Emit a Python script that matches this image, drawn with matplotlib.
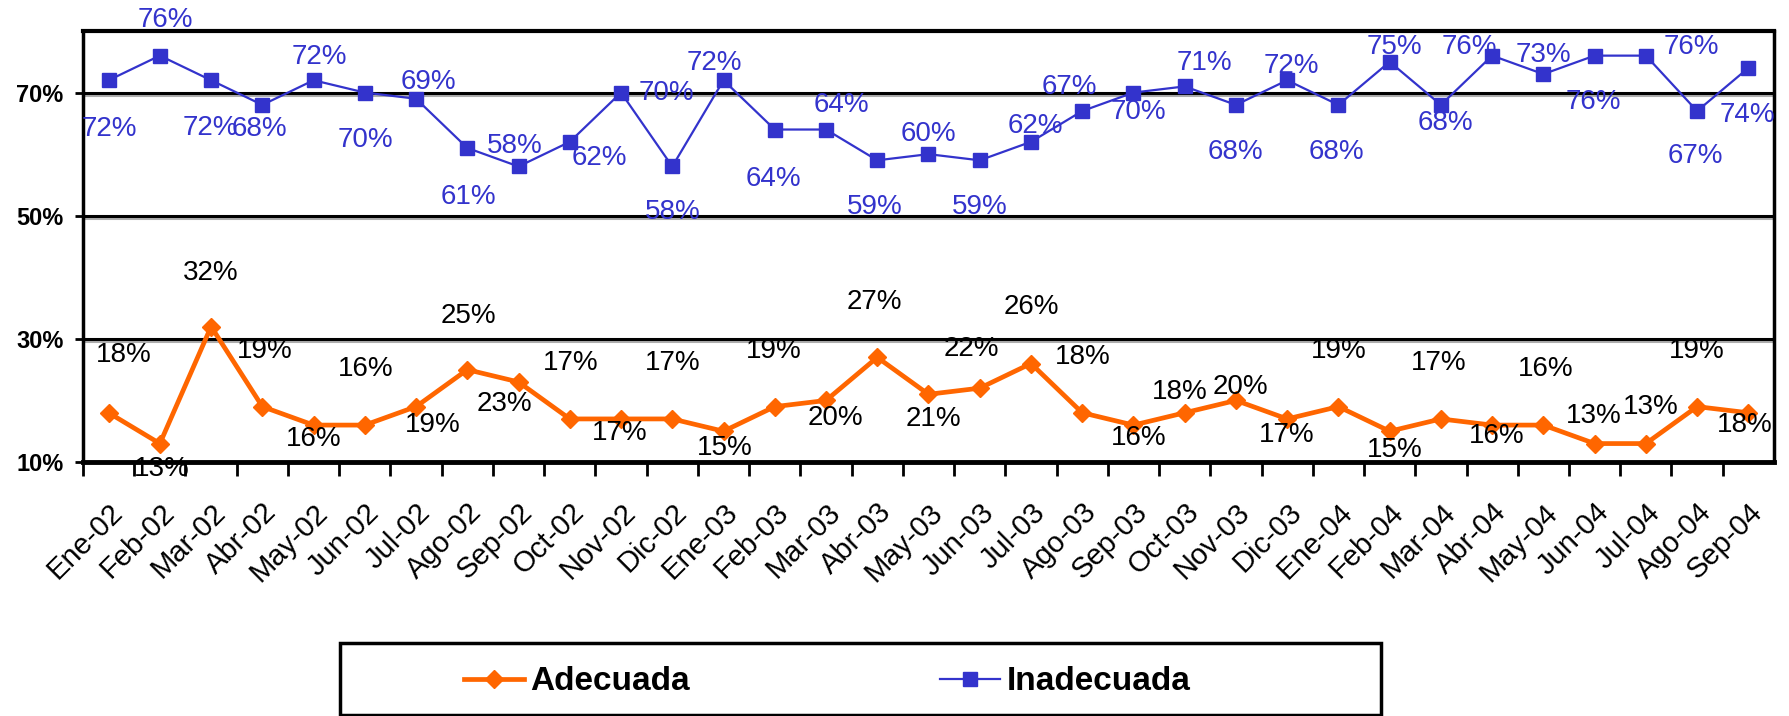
import matplotlib
matplotlib.use('Agg')
import matplotlib.pyplot as plt
import matplotlib.patheffects as pe
from matplotlib import font_manager
from matplotlib.lines import Line2D
from matplotlib.patches import Rectangle
from matplotlib.transforms import ScaledTranslation

# datos mensuales (%)
meses = ['Ene-02', 'Feb-02', 'Mar-02', 'Abr-02', 'May-02', 'Jun-02', 'Jul-02', 'Ago-02',
         'Sep-02', 'Oct-02', 'Nov-02', 'Dic-02', 'Ene-03', 'Feb-03', 'Mar-03', 'Abr-03',
         'May-03', 'Jun-03', 'Jul-03', 'Ago-03', 'Sep-03', 'Oct-03', 'Nov-03', 'Dic-03',
         'Ene-04', 'Feb-04', 'Mar-04', 'Abr-04', 'May-04', 'Jun-04', 'Jul-04', 'Ago-04', 'Sep-04']
adecuada = [18, 13, 32, 19, 16, 16, 19, 25, 23, 17, 17, 17, 15, 19, 20, 27,
            21, 22, 26, 18, 16, 18, 20, 17, 19, 15, 17, 16, 16, 13, 13, 19, 18]
inadecuada = [72, 76, 72, 68, 72, 70, 69, 61, 58, 62, 70, 58, 72, 64, 64, 59,
              60, 59, 62, 67, 70, 71, 68, 72, 68, 75, 68, 76, 73, 76, 76, 67, 74]
yticks = [10, 30, 50, 70]

# posicion de las etiquetas (pixeles, y hacia abajo)
off_adec = [(15, -58), (2, 25), (0, -54), (2, -56), (0, 14), (1, -56), (17, 18), (1, -54),
            (-14, 22), (1, -56), (-1, 14), (0, -56), (1, 17), (-1, -56), (9, 18), (-3, -55),
            (5, 25), (-8, -39), (0, -57), (1, -56), (5, 13), (-5, -21), (4, -13), (0, 16),
            (0, -56), (5, 19), (-2, -56), (5, 11), (2, -56), (-1, -28), (5, -37), (0, -56), (-4, 12)]
off_inad = [(1, 49), (6, -36), (-1, 48), (-3, 24), (6, -23), (1, 47), (12, -17), (1, 49),
            (-4, -20), (30, 16), (45, 0), (0, 46), (-9, -17), (-1, 49), (15, -25), (-3, 47),
            (0, -20), (0, 47), (4, -16), (-13, -24), (5, 19), (20, -23), (-1, 47), (4, -14),
            (-2, 47), (5, -15), (5, 18), (-23, -9), (0, -19), (-1, 46), (46, -9), (-2, 45), (-1, 47)]

NARANJA = '#FF6600'
AZUL = '#3333CC'

nombres = {f.name for f in font_manager.fontManager.ttflist}
if 'Liberation Sans Narrow' in nombres:
    fam_leg = ['Liberation Sans Narrow', 'DejaVu Sans']
    tam_leg = 28
else:
    fam_leg = ['Liberation Sans', 'DejaVu Sans']
    tam_leg = 24

plt.rcParams['font.family'] = ['Liberation Sans', 'DejaVu Sans']

fig = plt.figure(figsize=(17.89, 7.16), dpi=100)
ax = fig.add_axes([0.0464, 0.3547, 0.9452, 0.602])

x = list(range(len(meses)))
ax.plot(x, adecuada, color=NARANJA, lw=3.4, marker='D', ms=9, mec=NARANJA, zorder=4)
ax.plot(x, inadecuada, color=AZUL, lw=1.6, marker='s', ms=10.5, mec=AZUL, zorder=4)

for i in x:
    dx, dy = off_adec[i]
    ax.annotate(f'{adecuada[i]}%', (i, adecuada[i]), xytext=(dx, -dy), textcoords='offset pixels',
                ha='center', va='center', fontsize=20, color='black', zorder=5)
    dx, dy = off_inad[i]
    ax.annotate(f'{inadecuada[i]}%', (i, inadecuada[i]), xytext=(dx, -dy), textcoords='offset pixels',
                ha='center', va='center', fontsize=20, color=AZUL, zorder=5)

ax.set_xlim(-0.5, len(meses) - 0.5)
ax.set_ylim(10, 80)
ax.set_yticks(yticks)
ax.set_yticklabels([f'{v}%' for v in yticks], fontsize=17, fontweight='bold')
sombra = [pe.SimpleLineShadow(offset=(0, -1.5), shadow_color='#999999', alpha=0.8), pe.Normal()]
ax.yaxis.grid(True, color='black', lw=2.2, path_effects=sombra)
ax.set_axisbelow(True)
for s in ax.spines.values():
    s.set_linewidth(2.5)
    s.set_color('black')
ax.spines['bottom'].set_linewidth(3.5)
ax.spines['top'].set_linewidth(3)
ax.tick_params(axis='y', length=6, width=2, pad=8)

ax.set_xticks(x)
ax.set_xticklabels(meses, rotation=45, ha='right', rotation_mode='anchor', fontsize=21)
mover = ScaledTranslation(-0.14, 0, fig.dpi_scale_trans)
for lab in ax.get_xticklabels():
    lab.set_transform(lab.get_transform() + mover)
ax.set_xticks([i + 0.5 for i in x[:-1]] + [-0.5], minor=True)
ax.tick_params(axis='x', which='major', length=0, pad=26)
ax.tick_params(axis='x', which='minor', length=10, width=2)

# leyenda
fig.patches.append(Rectangle((0.190, 0.001), 0.582, 0.101, transform=fig.transFigure,
                             fill=False, edgecolor='black', lw=2.5))
h1 = Line2D([], [], color=NARANJA, lw=3.4, marker='D', ms=9)
h2 = Line2D([], [], color=AZUL, lw=1.6, marker='s', ms=10.5)
for h, t, x0 in [(h1, 'Adecuada', 464 / 1789), (h2, 'Inadecuada', 940 / 1789)]:
    fig.legend([h], [t], loc='center left', bbox_to_anchor=(x0, 0.0475), frameon=False,
               borderpad=0, borderaxespad=0, handlelength=1.8, handletextpad=0.2,
               prop={'family': fam_leg, 'size': tam_leg, 'weight': 'bold'})

fig.savefig('out.png', dpi=100)
